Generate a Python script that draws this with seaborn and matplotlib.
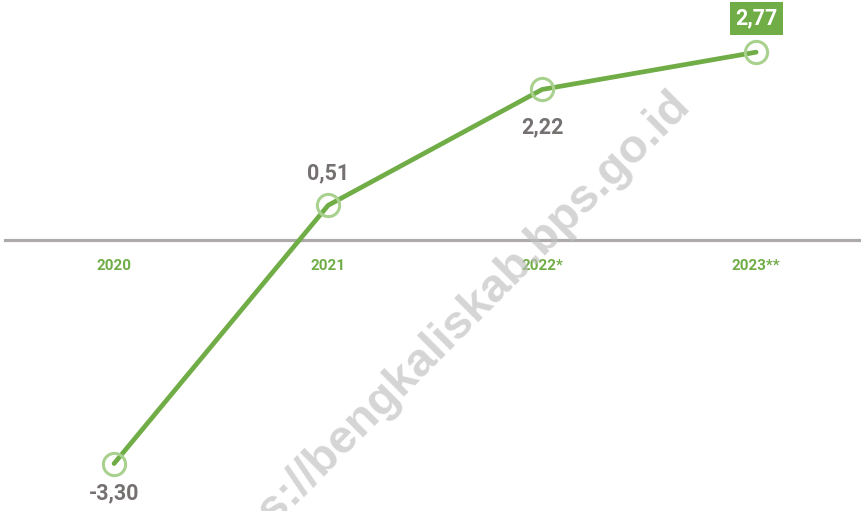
import pandas as pd
import matplotlib.pyplot as plt
import seaborn as sns

# data
years = ['2020', '2021', '2022*', '2023**']
growth = [-3.30, 0.51, 2.22, 2.77]
value_labels = ['-3,30', '0,51', '2,22', '2,77']

df = pd.DataFrame({'year': years, 'growth': growth})

sns.set_style('white')
plt.rcParams['font.family'] = ['Roboto', 'DejaVu Sans']

green = '#70AD47'
light_green = '#A9D18E'
gray_line = '#AEAAAA'
gray_text = '#767171'

fig = plt.figure(figsize=(8.61, 5.11), dpi=100)
ax = fig.add_axes([0, 0, 1, 1])

sns.lineplot(data=df, x='year', y='growth', ax=ax, color=green, linewidth=3.4,
             marker='o', markersize=16, markerfacecolor='none',
             markeredgecolor=light_green, markeredgewidth=2.2, sort=False)
for ln in ax.lines:
    ln.set_solid_joinstyle('round')
    ln.set_solid_capstyle('round')

ax.set_xlim(-0.533, 3.49)
ax.set_ylim(-4.00, 3.54)

# zero line as the bottom spine, ticks sit right under it
for s in ['top', 'right', 'left']:
    ax.spines[s].set_visible(False)
ax.spines['bottom'].set_position(('data', 0))
ax.spines['bottom'].set_color(gray_line)
ax.spines['bottom'].set_linewidth(2.3)
ax.spines['bottom'].set_bounds(-0.51, 3.49)
ax.spines['bottom'].set_zorder(1)
ax.set_yticks([])
ax.tick_params(axis='x', length=0, pad=14, labelsize=11, labelcolor=green)
for t in ax.get_xticklabels():
    t.set_fontweight('bold')
ax.set_xlabel('')
ax.set_ylabel('')

# value labels
offsets = [-30, 32, -38, 0]
for i, (v, lab) in enumerate(zip(growth, value_labels)):
    if i == len(growth) - 1:
        ax.annotate(lab, (i, v), xytext=(0, 34), textcoords='offset pixels',
                    ha='center', va='center', fontsize=15.5, fontweight='bold',
                    color='white',
                    bbox=dict(boxstyle='square,pad=0.25', fc=green, ec='none'))
    else:
        ax.annotate(lab, (i, v), xytext=(0, offsets[i]), textcoords='offset pixels',
                    ha='center', va='center', fontsize=15.5, fontweight='bold',
                    color=gray_text)

# watermark
fig.text(692 / 861, 1 - 106 / 511, 'https://bengkaliskab.bps.go.id',
         rotation=45, rotation_mode='anchor', ha='right', va='baseline',
         fontsize=34, fontweight='bold', family='Liberation Sans',
         color='#BFBFBF', alpha=0.65, zorder=10)

fig.savefig('out.png', dpi=100)
